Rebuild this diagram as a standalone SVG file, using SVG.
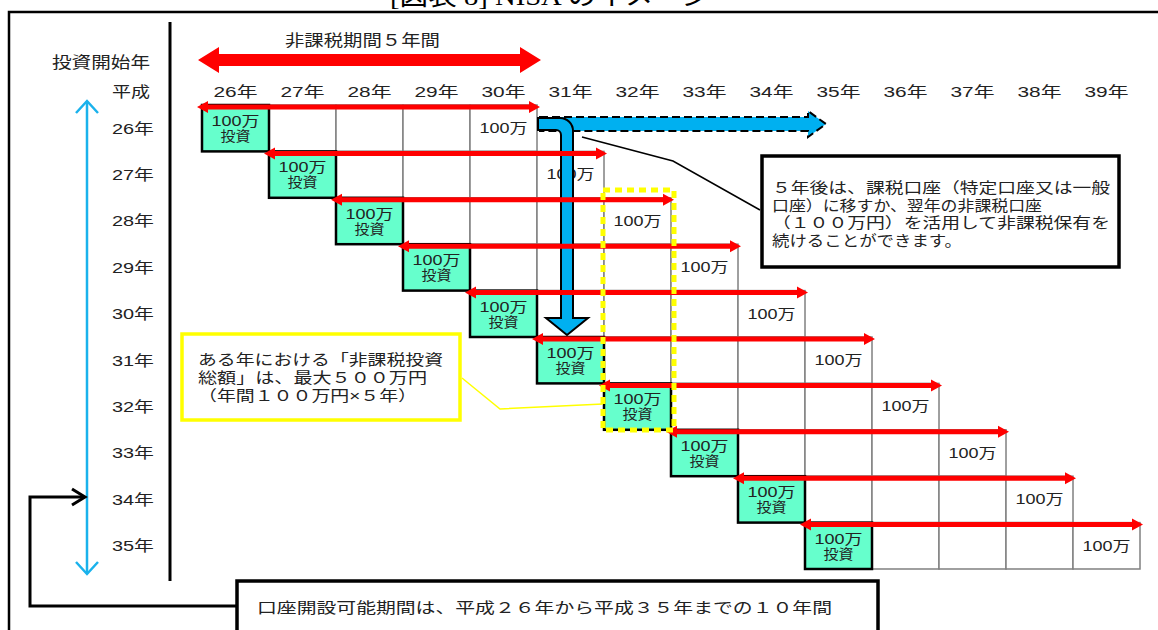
<svg xmlns="http://www.w3.org/2000/svg" xmlns:xlink="http://www.w3.org/1999/xlink" width="1158" height="630" viewBox="0 0 1158 630">
<style>
.t{font-family:'Liberation Sans','Noto Sans CJK JP',sans-serif;fill:#222;}
.s15{font-size:15px;}
.s14{font-size:14px;}
.s16{font-size:16px;}
.mid{text-anchor:middle;}
.cell{fill:#fff;stroke:#808080;stroke-width:1.5;}
.inv{fill:#66ffcc;stroke:#000;stroke-width:2.5;}
.red{fill:#ff0000;}
.blue{fill:#00b0f0;stroke:#000;stroke-width:2;}
.box{fill:#fff;stroke:#000;stroke-width:3.5;}
</style>
<defs>
<path id="rarrow" d="M-5,2 L6,-4 L6,-0.5 L327,-0.5 L327,-4 L338,2 L327,8 L327,4.5 L6,4.5 L6,8 Z"/>
<g id="rowcells">
<rect class="cell" x="67" y="0" width="67" height="46.4"/>
<rect class="cell" x="134" y="0" width="67" height="46.4"/>
<rect class="cell" x="201" y="0" width="67" height="46.4"/>
<rect class="cell" x="268" y="0" width="67" height="46.4"/>
<rect class="inv" x="0" y="0" width="67" height="46.4"/>
<text class="t s14 mid" x="33.5" y="21" textLength="48" lengthAdjust="spacingAndGlyphs">100万</text>
<text class="t s14 mid" x="33.5" y="36" textLength="30" lengthAdjust="spacingAndGlyphs">投資</text>
<text class="t s14 mid" x="301.5" y="28" textLength="48" lengthAdjust="spacingAndGlyphs">100万</text>
</g>
</defs>
<rect x="0" y="0" width="1158" height="630" fill="#fff"/>
<text x="390" y="5" style="font-family:'Liberation Serif','Noto Sans CJK JP',serif;font-size:26px;fill:#000" textLength="320" lengthAdjust="spacingAndGlyphs">[図表 8]  NISA のイメージ</text>
<path d="M9,630 V12 H1158" fill="none" stroke="#000" stroke-width="2.5"/>
<line x1="170" y1="22" x2="170" y2="581" stroke="#000" stroke-width="3"/>

<g id="header">
<text class="t s16" x="285" y="46" textLength="155" lengthAdjust="spacingAndGlyphs">非課税期間５年間</text>
<text class="t s16" x="52" y="68" textLength="98" lengthAdjust="spacingAndGlyphs">投資開始年</text>
<text class="t s15 mid" x="131" y="97" textLength="38" lengthAdjust="spacingAndGlyphs">平成</text>
</g>
<g id="column-headers" class="t s15">
<text class="mid" x="235.5" y="97" textLength="44" lengthAdjust="spacingAndGlyphs">26年</text>
<text class="mid" x="302.5" y="97" textLength="44" lengthAdjust="spacingAndGlyphs">27年</text>
<text class="mid" x="369.5" y="97" textLength="44" lengthAdjust="spacingAndGlyphs">28年</text>
<text class="mid" x="436.5" y="97" textLength="44" lengthAdjust="spacingAndGlyphs">29年</text>
<text class="mid" x="503.5" y="97" textLength="44" lengthAdjust="spacingAndGlyphs">30年</text>
<text class="mid" x="570.5" y="97" textLength="44" lengthAdjust="spacingAndGlyphs">31年</text>
<text class="mid" x="637.5" y="97" textLength="44" lengthAdjust="spacingAndGlyphs">32年</text>
<text class="mid" x="704.5" y="97" textLength="44" lengthAdjust="spacingAndGlyphs">33年</text>
<text class="mid" x="771.5" y="97" textLength="44" lengthAdjust="spacingAndGlyphs">34年</text>
<text class="mid" x="838.5" y="97" textLength="44" lengthAdjust="spacingAndGlyphs">35年</text>
<text class="mid" x="905.5" y="97" textLength="44" lengthAdjust="spacingAndGlyphs">36年</text>
<text class="mid" x="972.5" y="97" textLength="44" lengthAdjust="spacingAndGlyphs">37年</text>
<text class="mid" x="1039.5" y="97" textLength="44" lengthAdjust="spacingAndGlyphs">38年</text>
<text class="mid" x="1106.5" y="97" textLength="44" lengthAdjust="spacingAndGlyphs">39年</text>
</g>
<g id="row-labels" class="t s15">
<text class="mid" x="133" y="133.5" textLength="42" lengthAdjust="spacingAndGlyphs">26年</text>
<text class="mid" x="133" y="179.9" textLength="42" lengthAdjust="spacingAndGlyphs">27年</text>
<text class="mid" x="133" y="226.3" textLength="42" lengthAdjust="spacingAndGlyphs">28年</text>
<text class="mid" x="133" y="272.7" textLength="42" lengthAdjust="spacingAndGlyphs">29年</text>
<text class="mid" x="133" y="319.1" textLength="42" lengthAdjust="spacingAndGlyphs">30年</text>
<text class="mid" x="133" y="365.5" textLength="42" lengthAdjust="spacingAndGlyphs">31年</text>
<text class="mid" x="133" y="411.9" textLength="42" lengthAdjust="spacingAndGlyphs">32年</text>
<text class="mid" x="133" y="458.3" textLength="42" lengthAdjust="spacingAndGlyphs">33年</text>
<text class="mid" x="133" y="504.7" textLength="42" lengthAdjust="spacingAndGlyphs">34年</text>
<text class="mid" x="133" y="551.1" textLength="42" lengthAdjust="spacingAndGlyphs">35年</text>
</g>

<g id="row26"><use xlink:href="#rowcells" x="202" y="105"/></g>
<g id="row27"><use xlink:href="#rowcells" x="269" y="151.4"/></g>
<g id="row28"><use xlink:href="#rowcells" x="336" y="197.8"/></g>
<g id="row29"><use xlink:href="#rowcells" x="403" y="244.2"/></g>
<g id="row30"><use xlink:href="#rowcells" x="470" y="290.6"/></g>
<g id="row31"><use xlink:href="#rowcells" x="537" y="337"/></g>
<g id="row32"><use xlink:href="#rowcells" x="604" y="383.4"/></g>
<g id="row33"><use xlink:href="#rowcells" x="671" y="429.8"/></g>
<g id="row34"><use xlink:href="#rowcells" x="738" y="476.2"/></g>
<g id="row35"><use xlink:href="#rowcells" x="805" y="522.6"/></g>

<g id="connectors">
<path class="red" d="M198,60 L219,47 L219,54 L520,54 L520,47 L541,60 L520,73 L520,66 L219,66 L219,73 Z"/>
<path d="M540,117 H808 V111 L826,124 L808,137 V131 H540 Z" fill="#00b0f0" stroke="#000" stroke-width="2" stroke-dasharray="8 4"/>
<path class="blue" d="M538,118 H560 A13,13 0 0 1 573,131 V318 H588 L567,335 L546,318 H561 V135 A5,5 0 0 0 556,130 H538 Z"/>
<g class="red">
<use xlink:href="#rarrow" x="202" y="105"/>
<use xlink:href="#rarrow" x="269" y="151.4"/>
<use xlink:href="#rarrow" x="336" y="197.8"/>
<use xlink:href="#rarrow" x="403" y="244.2"/>
<use xlink:href="#rarrow" x="470" y="290.6"/>
<use xlink:href="#rarrow" x="537" y="337"/>
<use xlink:href="#rarrow" x="604" y="383.4"/>
<use xlink:href="#rarrow" x="671" y="429.8"/>
<use xlink:href="#rarrow" x="738" y="476.2"/>
<use xlink:href="#rarrow" x="805" y="522.6"/>
</g>
<polyline points="582,137 673,161 760,210" fill="none" stroke="#000" stroke-width="1.5"/>
<polyline points="462,378 500,409 603,404" fill="none" stroke="#ffff00" stroke-width="1.5"/>
<g fill="none" stroke="#1ab2ec" stroke-width="2.5">
<line x1="87" y1="101" x2="87" y2="574"/>
<polyline points="76,113 87,101 98,113"/>
<polyline points="76,562 87,574 98,562"/>
</g>
<g fill="none" stroke="#000" stroke-width="3">
<polyline points="237,606 30,606 30,497 84,497"/>
<polyline points="72,489 85,497 72,505"/>
</g>
</g>

<g id="yellow-frame">
<rect x="603" y="190" width="71" height="240" fill="none" stroke="#ffff00" stroke-width="5" stroke-dasharray="7 5"/>
</g>

<g id="callout-shift">
<rect class="box" x="762" y="156" width="357" height="111"/>
<text class="t s15" x="772" y="192.5" textLength="338" lengthAdjust="spacingAndGlyphs">５年後は、課税口座（特定口座又は一般</text>
<text class="t s15" x="772" y="210.5" textLength="270" lengthAdjust="spacingAndGlyphs">口座）に移すか、翌年の非課税口座</text>
<text class="t s15" x="772" y="227.5" textLength="338" lengthAdjust="spacingAndGlyphs">（１００万円）を活用して非課税保有を</text>
<text class="t s15" x="772" y="245.5" textLength="190" lengthAdjust="spacingAndGlyphs">続けることができます。</text>
</g>

<g id="callout-total">
<rect x="182" y="334" width="278" height="86" fill="#fff" stroke="#ffff00" stroke-width="3.5"/>
<text class="t s15" x="198" y="364.5" textLength="245" lengthAdjust="spacingAndGlyphs">ある年における「非課税投資</text>
<text class="t s15" x="198" y="382.5" textLength="229" lengthAdjust="spacingAndGlyphs">総額」は、最大５００万円</text>
<text class="t s15" x="198" y="400.5" textLength="219" lengthAdjust="spacingAndGlyphs">（年間１００万円×５年）</text>
</g>

<g id="callout-period">
<rect class="box" x="237" y="581" width="641" height="70"/>
<text class="t s15" x="257" y="612.5" textLength="575" lengthAdjust="spacingAndGlyphs">口座開設可能期間は、平成２６年から平成３５年までの１０年間</text>
</g>
</svg>
